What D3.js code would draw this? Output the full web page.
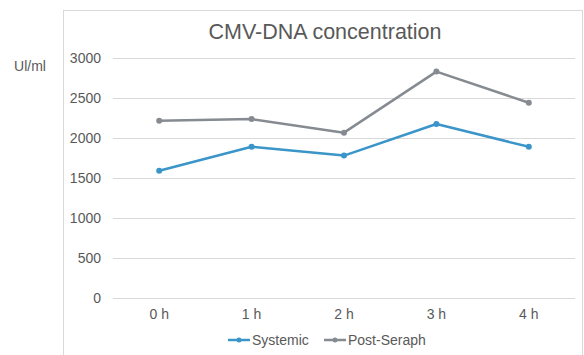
<!DOCTYPE html>
<html><head><meta charset="utf-8">
<script src="https://cdn.jsdelivr.net/npm/d3@7"></script>
<style>body{margin:0;background:#fff}svg{display:block;font-family:"Liberation Sans",Arial,sans-serif}</style>
</head><body><svg id="c" width="584" height="355"></svg>
<script>
const categories = ["0 h","1 h","2 h","3 h","4 h"];
const systemic = [1590, 1890, 1780, 2175, 1890];
const postSeraph = [2215, 2237, 2067, 2830, 2441];
const yTicks = [0, 500, 1000, 1500, 2000, 2500, 3000];
const seriesNames = ["Systemic", "Post-Seraph"];
const colors = ["#3b95c9", "#858b91"];

const svg = d3.select("#c");
const plot = {left: 113, right: 575, top: 58, bottom: 298};

svg.append("rect").attr("x", 63.5).attr("y", 10.5).attr("width", 519).attr("height", 360)
  .attr("fill", "#fff").attr("stroke", "#d9d9d9").attr("stroke-width", 1);

const x = d3.scaleBand().domain(categories).range([plot.left, plot.right]);
const y = d3.scaleLinear().domain([0, 3000]).range([plot.bottom, plot.top]);

const yAxis = d3.axisLeft(y).tickValues(yTicks).tickFormat(d3.format("d"))
  .tickSize(-(plot.right - plot.left)).tickPadding(12);
const gy = svg.append("g").attr("transform", `translate(${plot.left},0)`).call(yAxis);
gy.select(".domain").remove();
gy.selectAll(".tick line").attr("stroke", "#d9d9d9").attr("stroke-width", 1);
gy.selectAll(".tick text").attr("fill", "#595959").attr("font-size", 14);

const xAxis = d3.axisBottom(x).tickSize(0).tickPadding(11);
const gx = svg.append("g").attr("transform", `translate(0,${plot.bottom})`).call(xAxis);
gx.select(".domain").remove();
gx.selectAll(".tick text").attr("fill", "#595959").attr("font-size", 14);

svg.append("text").attr("x", 325).attr("y", 39).attr("text-anchor", "middle")
  .attr("fill", "#595959").attr("font-size", 21.5).text("CMV-DNA concentration");
svg.append("text").attr("x", 30).attr("y", 71).attr("text-anchor", "middle")
  .attr("fill", "#595959").attr("font-size", 14).text("Ul/ml");

const data = [systemic, postSeraph];
const line = d3.line().x((d, i) => x(categories[i]) + x.bandwidth() / 2).y(d => y(d));
data.forEach((vals, k) => {
  svg.append("path").datum(vals).attr("d", line).attr("fill", "none")
    .attr("stroke", colors[k]).attr("stroke-width", 2.5).attr("stroke-linejoin", "round");
  svg.selectAll(null).data(vals).enter().append("circle")
    .attr("cx", (d, i) => x(categories[i]) + x.bandwidth() / 2).attr("cy", d => y(d))
    .attr("r", 3).attr("fill", colors[k]);
});

const legX = [228, 324];
seriesNames.forEach((name, k) => {
  const g = svg.append("g").attr("transform", `translate(${legX[k]},340)`);
  g.append("line").attr("x1", 0).attr("x2", 22).attr("y1", 0).attr("y2", 0)
    .attr("stroke", colors[k]).attr("stroke-width", 2.5);
  g.append("circle").attr("cx", 11).attr("cy", 0).attr("r", 2.5).attr("fill", colors[k]);
  g.append("text").attr("x", 24).attr("y", 5).attr("fill", "#595959").attr("font-size", 14).text(name);
});
</script></body></html>
